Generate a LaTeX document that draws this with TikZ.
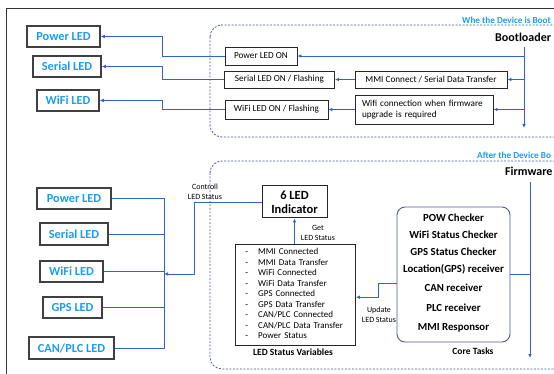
\documentclass[tikz,border=0pt]{standalone}
\usepackage{fontspec}
\setmainfont{Carlito}
\usetikzlibrary{arrows.meta}

\definecolor{ledcyan}{HTML}{1A9CF0}
\definecolor{wireblue}{HTML}{2F62CC}
\definecolor{zoneline}{HTML}{4A5C8C}

\tikzset{
  ledbox/.style={draw=black!75, line width=1.5pt, text=ledcyan,
    font=\bfseries\fontsize{12.3}{14}\selectfont, inner sep=0pt, minimum height=21pt},
  msgbox/.style={draw=black!85, line width=0.9pt,
    font=\fontsize{9.2}{10.5}\selectfont, inner sep=0pt},
  wire/.style={draw=wireblue, line width=0.9pt},
  arrow/.style={wire, -{Latex[length=4pt,width=3.6pt]}},
  zone/.style={draw=zoneline, line width=0.8pt, dash pattern=on 2pt off 1.5pt, rounded corners=12pt},
  zonetitle/.style={text=ledcyan, font=\bfseries\fontsize{9.2}{10}\selectfont, anchor=west, inner sep=0pt},
  heading/.style={font=\bfseries\fontsize{12}{14}\selectfont, anchor=west, inner sep=0pt},
  note/.style={font=\fontsize{8}{9.5}\selectfont, align=center, inner sep=0pt},
  task/.style={font=\bfseries\fontsize{10.8}{12}\selectfont, inner sep=0pt},
  caption/.style={font=\bfseries\fontsize{9.5}{11}\selectfont, inner sep=0pt}
}

\begin{document}
\begin{tikzpicture}[x=1pt, y=-1pt]
\useasboundingbox (0,0) rectangle (554,374);
\clip (0,0) rectangle (554,374);

% outer frame
\draw[line width=1pt, black!80] (6,420) -- (6,9) -- (620,9);

% ---------- Bootloader zone ----------
\draw[zone] (210,25) rectangle (640,137);
\node[zonetitle] (ztop) at (462,20) {Whe the Device is Boot};
\node[heading] (boot) at (495,37) {Bootloader};

\node[ledbox, minimum width=73pt] (pl1) at (63.5,36.5) {Power LED};
\node[ledbox, minimum width=68pt] (sl1) at (67,66.5) {Serial LED};
\node[ledbox, minimum width=62pt] (wl1) at (68,100.5) {WiFi LED};

\node[msgbox, minimum width=72pt, minimum height=18pt] (plon) at (261,56) {Power LED ON};
\node[msgbox, minimum width=110pt, minimum height=17pt] (slon) at (279.5,79.5) {Serial LED ON / Flashing};
\node[msgbox, minimum width=152pt, minimum height=17pt] (mmi) at (431,79.5) {MMI Connect / Serial Data Transfer};
\node[msgbox, minimum width=103pt, minimum height=19pt] (wlon) at (276.5,109.5) {WiFi LED ON / Flashing};
\node[msgbox, minimum width=138pt, minimum height=29pt, align=left, text width=124pt] (wific) at (424,109.5)
  {Wifi connection when firmware\\upgrade is required};

\coordinate (bspine) at (524,47);
\coordinate (bend) at (524,128);
\draw[arrow] (bspine) -- (bend);
\draw[arrow] (plon.east -| bspine) -- (plon.east);
\draw[arrow] (mmi.east -| bspine) -- (mmi.east);
\draw[arrow] (wific.east -| bspine) -- (wific.east);
\draw[arrow] (mmi.west) -- (slon.east);
\draw[arrow] (wific.west) -- (wlon.east);

\draw[arrow] (plon.west) -- ++(-62,0) |- (pl1.east);
\draw[arrow] (slon.west) -- ++(-62,0) |- (sl1.east);
\draw[arrow] (wlon.west) -- ++(-62,0) |- (wl1.east);

% ---------- Firmware zone ----------
\draw[zone] (210,161) rectangle (640,369);
\node[zonetitle] (zbot) at (477,155) {After the Device Bo};
\node[heading] (fw) at (505,171) {Firmware};

\node[ledbox, minimum width=74pt] (pl2) at (74,198.5) {Power LED};
\node[ledbox, minimum width=68pt, minimum height=22pt] (sl2) at (74,234) {Serial LED};
\node[ledbox, minimum width=63pt] (wl2) at (71.5,271.5) {WiFi LED};
\node[ledbox, minimum width=59pt] (gl2) at (72.5,307.5) {GPS LED};
\node[ledbox, minimum width=85pt, minimum height=22pt] (cl2) at (71.5,348) {CAN/PLC LED};

% LED bus
\coordinate (busx) at (164,0);
\draw[wire] (pl2.east) -- (pl2.east -| busx) -- (cl2.east -| busx) -- (cl2.east);
\draw[wire] (sl2.east) -- (sl2.east -| busx);
\draw[wire] (wl2.east) -- (wl2.east -| busx);
\draw[wire] (gl2.east) -- (gl2.east -| busx);

\node[msgbox, line width=1pt, minimum width=65pt, minimum height=32pt, align=center,
  font=\bfseries\fontsize{12.5}{14}\selectfont] (ind) at (294.5,202) {6 LED\\Indicator};

\coordinate (busin) at (164,274);
\draw[arrow] (ind.west) -- ++(-67,0) |- (busin);
\node[note] (ctl) at (205,192) {Controll\\LED Status};

\node[msgbox, anchor=north west, minimum width=120pt, minimum height=99pt,
  inner xsep=10pt, inner ysep=3pt, align=left, text width=100pt,
  font=\fontsize{9}{10.5}\selectfont] (vars) at (235,244) {%
  \begin{tabular}{@{}l@{\hspace{10pt}}l@{}}
  - & MMI Connected\\
  - & MMI Data Transfer\\
  - & WiFi Connected\\
  - & WiFi Data Transfer\\
  - & GPS Connected\\
  - & GPS Data Transfer\\
  - & CAN/PLC Connected\\
  - & CAN/PLC Data Transfer\\
  - & Power Status
  \end{tabular}};
\node[caption] (varcap) at (293,352) {LED Status Variables};

\draw[arrow] (vars.north -| ind.south) -- (ind.south);
\node[note] (getl) at (318,233) {Get\\LED Status};

% core tasks
\node[draw=zoneline, line width=0.9pt, rounded corners=8pt, minimum width=113pt, minimum height=135pt]
  (core) at (453.5,274.5) {};
\node[task] (ct1) at (453.5,218) {POW Checker};
\node[task] (ct2) at (453.5,235) {WiFi Status Checker};
\node[task] (ct3) at (453.5,252) {GPS Status Checker};
\node[task] (ct4) at (453.5,269) {Location(GPS) receiver};
\node[task] (ct5) at (453.5,288) {CAN receiver};
\node[task] (ct6) at (453.5,308) {PLC receiver};
\node[task] (ct7) at (453.5,328) {MMI Responsor};
\node[caption] (corecap) at (473,351) {Core Tasks};

\coordinate (fspine) at (530,182);
\coordinate (fend) at (530,358);
\draw[arrow] (fspine) -- (fend);
\draw[wire] (core.east) -- (core.east -| fspine);

\coordinate (upd) at (397,283);
\draw[arrow] (upd) -- (378,283) |- ([yshift=-2.5pt]vars.east);
\node[note] (updl) at (379,315) {Update\\LED Status};
\end{tikzpicture}
\end{document}
